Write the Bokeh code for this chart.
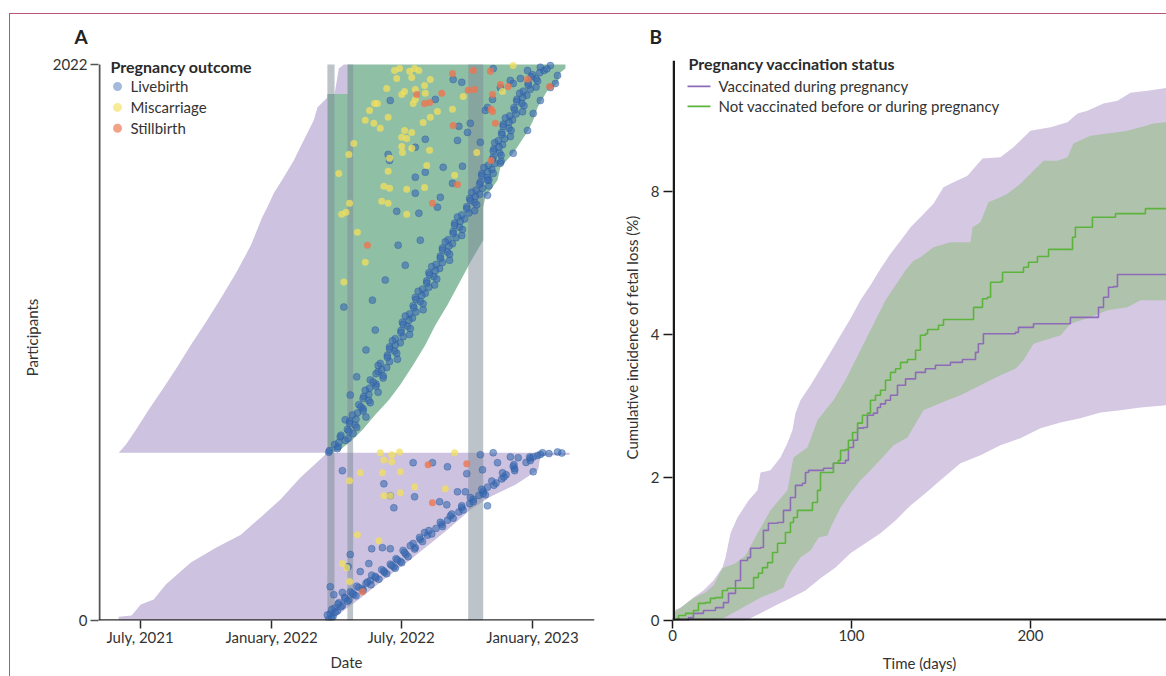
import numpy as np
import pandas as pd
from bokeh.plotting import figure
from bokeh.models import Range1d, FixedTicker, Label, DatetimeTickFormatter
from bokeh.layouts import row
from bokeh.embed import file_html
from bokeh.resources import INLINE

FONT = "Lato"
TXT = "#333333"
ORIGIN = pd.Timestamp("2021-07-01")   # x values of panel A are days since this date

# ------------------------------------------------------------------ panel A data
n_participants = 2022
tick_dates = ["2021-07-01", "2022-01-01", "2022-07-01", "2023-01-01"]
band_start_days = [262, 290, 459]
band_end_days = [272, 298, 480]

# bottom block : start (left) and outcome (right) edges
bottom_left_rows = [0, 14, 18, 58, 76, 131, 211, 265, 312, 374, 439, 519, 603, 610]
bottom_left_days = [-30, -30, -12, 1, 19, 36, 71, 106, 141, 168, 196, 224, 259, 259]
bottom_right_rows = [610, 603, 599, 548, 494, 450, 403, 330, 221, 149, 76, 40, 0]
bottom_right_days = [601, 601, 560, 557, 525, 490, 462, 430, 378, 341, 306, 287, 266]

# top block : purple part before the first band, green part after it
top_purple_rows = [610, 639, 693, 766, 839, 918, 1002, 1085, 1172, 1267, 1365, 1467, 1503,
                   1554, 1612, 1673, 1721, 1819, 1866, 1902]
top_purple_days = [-30, -20, -6, 12, 31, 51, 71, 92, 113, 135, 155, 171, 178, 187, 201, 215,
                   224, 243, 248, 262]
late_purple_rows = [1915, 1960, 2007, 2022]
late_purple_days = [272, 275, 278, 285]
green_left_rows = [610, 1915, 1915, 2022]
green_left_days = [262, 262, 290, 290]
green_right_rows = [2022, 2007, 1993, 1953, 1928, 1866, 1819, 1782, 1699, 1648, 1601, 1539,
                    1503, 1383, 1303, 1220, 1147, 1074, 1002, 929, 857, 802, 748, 693, 650,
                    621, 610]
green_right_days = [595, 595, 588, 584, 570, 556, 550, 543, 522, 504, 500, 483, 480, 480, 462,
                    445, 430, 413, 399, 382, 364, 348, 329, 311, 294, 280, 266]

# outcome points
top_diag_rows = [612, 625, 640, 655, 668, 680, 695, 710, 725, 740, 755, 770, 785, 800, 815,
                 830, 845, 860, 875, 890, 905, 920, 935, 950, 965, 980, 995, 1010, 1025, 1040,
                 1055, 1070, 1085, 1100, 1115, 1130, 1145, 1160, 1175, 1190, 1205, 1220, 1235,
                 1250, 1265, 1280, 1295, 1310, 1325, 1340, 1355, 1370, 1385, 1400, 1415, 1430,
                 1445, 1460, 1475, 1490, 1505, 1520, 1535, 1550, 1565, 1580, 1595, 1610, 1625,
                 1640, 1655, 1670, 1685, 1700, 1715, 1730, 1745, 1760, 1775, 1790, 1805, 1820,
                 1835, 1850, 1865, 1880, 1895, 1910, 1925, 1940, 1955, 1970, 1985, 2000, 2012,
                 2018]
top_diag_days = [264, 276, 272, 287, 280, 298, 290, 301, 293, 316, 304, 312, 306, 320, 313,
                 333, 321, 330, 322, 340, 333, 345, 336, 360, 346, 356, 349, 364, 357, 377,
                 365, 374, 367, 381, 377, 396, 382, 392, 385, 399, 395, 412, 401, 411, 404,
                 419, 414, 433, 420, 430, 423, 437, 431, 450, 438, 447, 440, 454, 450, 468,
                 457, 468, 461, 475, 470, 488, 476, 486, 478, 492, 487, 505, 494, 503, 495,
                 507, 501, 518, 506, 516, 508, 521, 517, 535, 523, 534, 527, 541, 536, 554,
                 543, 554, 549, 565, 560, 574]
top_diag2_rows = [618, 632, 647, 662, 674, 688, 702, 717, 732, 747, 762, 777, 792, 807, 822,
                  837, 852, 867, 882, 897, 912, 927, 942, 957, 972, 987, 1002, 1017, 1032,
                  1047, 1062, 1077, 1092, 1107, 1122, 1137, 1152, 1167, 1182, 1197, 1212, 1227,
                  1242, 1257, 1272, 1287, 1302, 1317, 1332, 1347, 1362, 1377, 1392, 1407, 1422,
                  1437, 1452, 1467, 1482, 1497, 1512, 1527, 1542, 1557, 1572, 1587, 1602, 1617,
                  1632, 1647, 1662, 1677, 1692, 1707, 1722, 1737, 1752, 1767, 1782, 1797, 1812,
                  1827, 1842, 1857, 1872, 1887, 1902, 1917, 1932, 1947, 1962, 1977, 1992, 2006]
top_diag2_days = [265, 277, 278, 291, 281, 292, 303, 293, 302, 297, 312, 309, 322, 312, 320,
                  315, 330, 326, 340, 330, 338, 333, 349, 346, 359, 349, 357, 353, 368, 365,
                  378, 368, 376, 371, 386, 383, 396, 386, 394, 389, 404, 401, 415, 405, 413,
                  408, 423, 420, 433, 423, 432, 427, 442, 438, 451, 440, 448, 444, 460, 457,
                  471, 462, 469, 464, 479, 475, 488, 478, 486, 481, 496, 493, 505, 494, 502,
                  496, 510, 506, 519, 508, 516, 511, 526, 524, 537, 527, 535, 531, 546, 543,
                  556, 547, 559, 569]
top_blue_rows = [1891, 1895, 1967, 1957, 2007, 2000, 1971, 1964, 1866, 1775, 1797, 1746, 1750,
                 1721, 1695, 1673, 1648, 1652, 1612, 1630, 1590, 1539, 1554, 1503, 1488, 1481,
                 1739, 1808, 1855, 1938, 1953, 1895, 1982, 1953, 1938, 1891, 1844, 1782, 1699,
                 1663, 1626, 1601, 1546, 1140, 886, 1165, 1238, 1292, 984, 820, 1383, 1365,
                 730, 1056]
top_blue_days = [350, 413, 438, 450, 494, 542, 532, 518, 486, 458, 446, 444, 399, 385, 347,
                 349, 424, 451, 385, 399, 437, 420, 385, 416, 359, 390, 476, 462, 483, 504,
                 522, 493, 584, 581, 574, 560, 550, 542, 522, 504, 494, 486, 486, 285, 303,
                 325, 343, 371, 316, 294, 392, 361, 287, 329]
top_yellow_rows = [2007, 2000, 1997, 2007, 2000, 1971, 1975, 1967, 1935, 1913, 1924, 1931,
                   1946, 1917, 1895, 1880, 1880, 1855, 1880, 1851, 1859, 1906, 1830, 1819,
                   1808, 1790, 1811, 1830, 1782, 1775, 1757, 1753, 1724, 1702, 1717, 1710,
                   1735, 1695, 1681, 1626, 1634, 1655, 1579, 1572, 1568, 1575, 1619, 1525,
                   1517, 1477, 1477, 1517, 2018, 1924, 1702, 1485, 1231, 1412, 1303]
top_yellow_days = [363, 356, 377, 384, 390, 359, 380, 406, 345, 366, 370, 385, 398, 399, 385,
                   382, 328, 321, 332, 416, 437, 452, 347, 315, 327, 336, 396, 406, 370, 380,
                   366, 373, 366, 367, 380, 405, 299, 292, 349, 278, 347, 401, 341, 349, 373,
                   398, 440, 338, 347, 373, 282, 293, 522, 507, 471, 288, 285, 304, 315]
top_orange_rows = [1989, 2000, 1997, 1928, 1931, 1913, 1917, 1884, 1880, 1913, 1949, 1942,
                   1968, 1942, 1859, 1851, 1808, 1800, 1586, 1517, 1673, 1365]
top_orange_days = [437, 466, 490, 459, 468, 387, 422, 405, 398, 493, 504, 515, 542, 573, 491,
                   493, 497, 438, 444, 409, 491, 318]
bottom_diag_rows = [5, 15, 25, 35, 45, 55, 65, 75, 85, 95, 105, 115, 125, 135, 145, 155, 165,
                    175, 185, 195, 205, 215, 225, 240, 255, 265, 280, 295, 310, 320, 335, 350,
                    365, 380, 395, 410, 425, 440, 455, 470, 485, 500, 515, 530, 545, 560, 575,
                    590, 600, 607, 609, 610]
bottom_diag_days = [264, 270, 266, 276, 272, 283, 278, 292, 286, 299, 294, 311, 303, 316, 322,
                    330, 324, 342, 338, 355, 350, 364, 358, 372, 368, 385, 382, 392, 402, 398,
                    414, 422, 430, 434, 446, 450, 461, 466, 474, 480, 486, 498, 506, 512, 524,
                    522, 540, 546, 556, 572, 590, 563]
bottom_diag2_rows = [10, 20, 30, 40, 50, 60, 70, 80, 90, 100, 110, 120, 130, 140, 150, 160,
                     170, 180, 190, 200, 210, 220, 232, 247, 260, 272, 287, 302, 315, 327, 342,
                     357, 372, 387, 402, 417, 432, 447, 462, 477, 492, 507, 522, 537, 552, 567,
                     582, 595, 604]
bottom_diag2_days = [268, 262, 273, 268, 281, 277, 290, 287, 302, 297, 312, 306, 323, 318, 334,
                     329, 345, 341, 357, 352, 366, 360, 375, 370, 384, 378, 395, 391, 408, 404,
                     423, 420, 438, 436, 452, 450, 466, 462, 480, 478, 495, 492, 509, 507, 524,
                     523, 546, 545, 560]
bottom_blue_rows = [545, 574, 574, 559, 534, 468, 468, 421, 432, 548, 574, 541, 417, 450, 454,
                    410, 497, 261, 265, 261, 196, 178, 207, 102, 94, 123, 240, 610, 595, 592,
                    595, 613, 603, 457]
bottom_blue_days = [283, 382, 409, 430, 457, 455, 444, 429, 419, 479, 500, 550, 486, 384, 350,
                    355, 341, 324, 339, 350, 291, 308, 320, 283, 271, 266, 294, 494, 518, 529,
                    550, 584, 476, 483]
bottom_yellow_rows = [610, 603, 613, 610, 584, 577, 537, 537, 541, 486, 465, 454, 454, 479,
                      312, 290, 207, 192, 508, 142]
bottom_yellow_days = [336, 352, 363, 440, 341, 352, 308, 339, 364, 384, 364, 341, 350, 427,
                      304, 334, 283, 289, 293, 293]
bottom_orange_rows = [566, 570, 428, 105]
bottom_orange_days = [403, 457, 409, 311]

# ------------------------------------------------------------------ panel B data
# (y in displayed axis units; the axis is labelled 0, 2, 4, 8)
vacc_days = [0, 8.9, 11.7, 17.3, 24.0, 28.5, 31.3, 35.2, 38.0, 41.9, 43.6, 49.2, 50.8, 53.6,
             58.7, 62.0, 65.9, 68.7, 72.6, 74.3, 76.0, 84.4, 89.9, 96.6, 98.3, 101.1, 103.4,
             106.7, 108.9, 112.3, 114.5, 116.2, 119.0, 121.8, 125.7, 130.2, 135.8, 141.3,
             146.9, 155.3, 162.0, 169.3, 170.9, 173.7, 191.6, 193.3, 201.7, 220.7, 222.3,
             234.6, 238.0, 240.8, 243.6, 246.4, 248.6, 276]
vacc_inc = [0, 0.04, 0.10, 0.14, 0.18, 0.25, 0.38, 0.56, 0.84, 0.88, 1.01, 1.02, 1.26, 1.36,
            1.37, 1.54, 1.72, 1.89, 1.92, 2.07, 2.10, 2.13, 2.20, 2.24, 2.42, 2.52, 2.69, 2.70,
            2.87, 2.90, 2.98, 3.03, 3.08, 3.15, 3.29, 3.38, 3.47, 3.52, 3.57, 3.61, 3.65, 3.75,
            3.87, 4.01, 4.03, 4.10, 4.15, 4.15, 4.24, 4.24, 4.38, 4.52, 4.66, 4.67, 4.84, 4.84]
unvacc_days = [0, 3.4, 7.3, 11.7, 14.5, 18.4, 21.2, 24.0, 27.9, 30.7, 42.5, 45.3, 48.0, 50.3,
               53.1, 55.9, 58.7, 62.0, 63.1, 65.9, 67.6, 69.8, 76.0, 78.2, 81.0, 82.7, 87.2,
               89.9, 92.7, 93.9, 96.6, 98.3, 100.6, 103.4, 106.1, 108.9, 110.6, 113.4, 116.2,
               119.0, 121.8, 124.6, 127.4, 131.3, 134.1, 135.8, 138.5, 141.3, 142.5, 146.9,
               148.6, 151.4, 167.6, 168.2, 171.5, 173.2, 176.0, 177.7, 183.2, 184.4, 194.4,
               196.1, 198.9, 201.7, 203.9, 208.4, 210.1, 219.6, 223.5, 225.1, 231.8, 234.6,
               245.8, 247.5, 263.1, 264.2, 276]
unvacc_inc = [0, 0.07, 0.10, 0.14, 0.24, 0.25, 0.31, 0.32, 0.42, 0.45, 0.45, 0.60, 0.66, 0.74,
              0.81, 0.95, 1.08, 1.08, 1.23, 1.37, 1.44, 1.54, 1.54, 1.65, 1.82, 2.07, 2.07,
              2.20, 2.24, 2.38, 2.39, 2.52, 2.63, 2.76, 2.87, 2.90, 3.08, 3.15, 3.22, 3.36,
              3.47, 3.52, 3.61, 3.65, 3.65, 3.78, 3.99, 4.01, 4.07, 4.07, 4.13, 4.21, 4.21,
              4.38, 4.38, 4.50, 4.52, 4.73, 4.74, 4.87, 4.87, 4.94, 5.01, 5.01, 5.09, 5.09,
              5.19, 5.19, 5.36, 5.50, 5.50, 5.64, 5.64, 5.69, 5.69, 5.76, 5.76]
vacc_hi_days = [0, 0.6, 4.5, 11.7, 17.3, 22.9, 27.9, 29.6, 32.4, 36.3, 42.5, 47.5, 49.2, 54.7,
                60.3, 64.2, 67.0, 68.7, 71.5, 77.1, 82.7, 88.3, 93.9, 99.4, 105.0, 110.6,
                116.2, 121.8, 127.4, 133.0, 138.5, 145.8, 151.4, 157.0, 164.8, 173.2, 183.2,
                190.5, 200.0, 211.2, 220.7, 226.3, 231.8, 240.8, 248.6, 255.9, 265.4, 276]
vacc_hi = [0, 0.14, 0.18, 0.32, 0.42, 0.56, 0.74, 0.88, 1.22, 1.44, 1.68, 1.82, 2.07, 2.10,
           2.28, 2.48, 2.66, 2.90, 3.08, 3.29, 3.52, 3.75, 3.99, 4.22, 4.48, 4.69, 4.92, 5.13,
           5.31, 5.50, 5.64, 5.83, 6.06, 6.13, 6.22, 6.46, 6.48, 6.62, 6.85, 6.90, 6.97, 7.09,
           7.13, 7.23, 7.27, 7.38, 7.41, 7.45]
vacc_lo_days = [0, 40.8, 49.2, 57.5, 65.9, 74.3, 82.7, 91.1, 99.4, 107.8, 116.2, 124.6, 133.0,
                141.3, 149.7, 160.9, 172.1, 183.2, 194.4, 205.6, 216.8, 227.9, 239.1, 250.3,
                261.5, 276]
vacc_lo = [0, 0, 0.10, 0.21, 0.31, 0.42, 0.59, 0.74, 0.94, 1.08, 1.22, 1.40, 1.61, 1.78,
           1.96, 2.20, 2.31, 2.45, 2.55, 2.69, 2.77, 2.83, 2.91, 2.94, 2.98, 3.01]
unvacc_hi_days = [0, 0.6, 4.5, 11.7, 18.4, 22.9, 27.9, 35.2, 40.8, 47.5, 54.7, 64.2, 67.6,
                  75.4, 81.0, 86.6, 89.9, 96.6, 102.2, 107.8, 113.4, 119.0, 124.6, 130.2,
                  134.6, 138.5, 145.8, 155.3, 166.5, 167.6, 172.1, 176.5, 183.2, 187.2, 194.4,
                  201.7, 207.3, 215.1, 220.7, 224.0, 233.5, 243.0, 254.2, 261.5, 268.7, 276]
unvacc_hi = [0, 0.11, 0.18, 0.31, 0.39, 0.49, 0.73, 0.80, 0.91, 1.22, 1.54, 1.82, 2.28, 2.42,
             2.80, 2.98, 3.08, 3.36, 3.64, 3.92, 4.20, 4.48, 4.69, 4.90, 5.03, 5.08, 5.22,
             5.29, 5.29, 5.50, 5.57, 5.85, 5.92, 5.97, 6.11, 6.29, 6.43, 6.43, 6.48, 6.67,
             6.78, 6.81, 6.85, 6.90, 6.95, 6.97]
unvacc_lo_days = [0, 24.0, 28.5, 36.3, 43.6, 49.2, 56.4, 62.0, 64.2, 67.6, 71.5, 77.1, 81.6,
                  86.6, 88.3, 93.9, 99.4, 105.0, 110.6, 117.3, 123.5, 131.3, 136.9, 140.2,
                  153.6, 160.9, 172.1, 183.2, 191.6, 196.1, 201.7, 216.8, 222.3, 233.5, 243.0,
                  254.2, 261.5, 276]
unvacc_lo = [0, 0, 0.03, 0.14, 0.24, 0.32, 0.39, 0.46, 0.60, 0.74, 0.88, 0.98, 1.16, 1.19,
             1.30, 1.58, 1.78, 1.96, 2.10, 2.28, 2.45, 2.56, 2.80, 2.94, 3.08, 3.15, 3.29,
             3.43, 3.52, 3.64, 3.87, 3.99, 4.15, 4.24, 4.34, 4.38, 4.48, 4.48]
b_ticks = [0, 2, 4, 6]
b_tick_labels = {0: "0", 2: "2", 4: "4", 6: "8"}
b_axis_top = 7.83

# ------------------------------------------------------------------ helpers
def dt(days):
    return (ORIGIN + pd.to_timedelta(np.asarray(days, dtype=float), unit="D")).values


def ms(days):
    return (ORIGIN + pd.Timedelta(days=float(days))).value / 1e6


PURPLE_A = "#cdc2df"
GREEN_A = "#8fbfa5"
BAND = "#7e8d99"
BLUE = "#3a6bb3"
YELLOW = "#f3df5c"
ORANGE = "#ee7650"
VAC = "#8e6bb8"
UNVAC = "#5db43c"

A_X0, A_X1 = -58.2, 635.7          # visible date window (days)
A_YTOP = 2058.3                    # a little head-room above the 2022 tick
B_X1, B_YTOP = 276, 7.916


def style_axis(ax, color, width):
    ax.axis_line_color = None      # drawn as a line glyph so it stops at the top tick
    ax.major_tick_line_color = color
    ax.major_tick_line_width = 1.5
    ax.major_tick_out = 8
    ax.major_tick_in = 0
    ax.minor_tick_line_color = None
    ax.major_label_text_font = FONT
    ax.major_label_text_font_size = "15px"
    ax.major_label_text_color = TXT
    ax.axis_label_text_font = FONT
    ax.axis_label_text_font_size = "15px"
    ax.axis_label_text_font_style = "normal"
    ax.axis_label_text_color = TXT


def style_title(p, offset):
    p.title.text_font = FONT
    p.title.text_font_size = "19px"
    p.title.text_font_style = "bold"
    p.title.text_color = "#222222"
    p.title.align = "left"
    p.title.offset = offset
    p.title.standoff = 13


# ------------------------------------------------------------------ panel A
pA = figure(width=600, height=662, x_axis_type="datetime", title="A",
            x_range=Range1d(ms(A_X0), ms(A_X1)), y_range=Range1d(0, A_YTOP),
            output_backend="svg", toolbar_location=None,
            min_border_left=88, min_border_right=16, min_border_top=40, min_border_bottom=55)
pA.outline_line_color = None
pA.grid.visible = False
pA.background_fill_color = None
pA.border_fill_color = None
style_title(pA, -24)

pA.patch(dt(bottom_left_days + bottom_right_days), bottom_left_rows + bottom_right_rows,
         fill_color=PURPLE_A, line_color=None)
pA.patch(dt(top_purple_days + [262]), top_purple_rows + [610],
         fill_color=PURPLE_A, line_color=None)
pA.patch(dt(late_purple_days + [290, 290]), late_purple_rows + [2022, 1915],
         fill_color=PURPLE_A, line_color=None)
pA.patch(dt(green_left_days + green_right_days), green_left_rows + green_right_rows,
         fill_color=GREEN_A, line_color=None)

pA.quad(left=dt(band_start_days), right=dt(band_end_days),
        bottom=[0] * len(band_start_days), top=[n_participants] * len(band_start_days),
        fill_color=BAND, fill_alpha=0.52, line_color=None)

blue_kw = dict(size=7, fill_color=BLUE, fill_alpha=0.6, line_color="#24549a", line_alpha=0.6,
               line_width=0.6)
for d, r in [(top_diag_days, top_diag_rows), (top_diag2_days, top_diag2_rows),
             (top_blue_days, top_blue_rows), (bottom_diag_days, bottom_diag_rows),
             (bottom_diag2_days, bottom_diag2_rows), (bottom_blue_days, bottom_blue_rows)]:
    pA.scatter(dt(d), r, **blue_kw)
yel_kw = dict(size=7, fill_color=YELLOW, fill_alpha=0.75, line_color=None)
pA.scatter(dt(top_yellow_days), top_yellow_rows, **yel_kw)
pA.scatter(dt(bottom_yellow_days), bottom_yellow_rows, **yel_kw)
org_kw = dict(size=7, fill_color=ORANGE, fill_alpha=0.8, line_color=None)
pA.scatter(dt(top_orange_days), top_orange_rows, **org_kw)
pA.scatter(dt(bottom_orange_days), bottom_orange_rows, **org_kw)

style_axis(pA.xaxis[0], "#2b2b2b", 2)
style_axis(pA.yaxis[0], "#555555", 2)
pA.xaxis.ticker = FixedTicker(ticks=[pd.Timestamp(d).value / 1e6 for d in tick_dates])
fmt = "%B, %Y"
pA.xaxis.formatter = DatetimeTickFormatter(days=fmt, months=fmt, years=fmt)
pA.xaxis.major_label_standoff = -1
pA.xaxis.axis_label = "Date"
pA.xaxis.axis_label_standoff = 4
pA.yaxis.ticker = FixedTicker(ticks=[0, n_participants])
pA.yaxis.major_label_standoff = 3
pA.yaxis.axis_label = "Participants"
pA.yaxis.axis_label_standoff = 9
# axis lines (y stops at the 2022 tick)
pA.line(dt([A_X0 + 1.4, A_X0 + 1.4]), [0, n_participants], line_color="#555555", line_width=2)
pA.line(dt([A_X0, A_X1]), [0.5, 0.5], line_color="#2b2b2b", line_width=2.2)

pA.add_layout(Label(x=ms(-41.4), y=2015, text="Pregnancy outcome", text_font=FONT,
                    text_font_size="16px", text_font_style="bold", text_color="#2a2a2a",
                    text_baseline="middle"))
legend_a = [("Livebirth", BLUE, 0.55, 1942), ("Miscarriage", YELLOW, 0.75, 1866),
            ("Stillbirth", ORANGE, 0.8, 1790)]
for name, col, alp, yy in legend_a:
    pA.scatter([ms(-31.6)], [yy], size=9, fill_color=col, fill_alpha=alp * 0.85, line_color=None)
    pA.add_layout(Label(x=ms(-13.4), y=yy, text=name, text_font=FONT, text_font_size="15px",
                        text_color=TXT, text_baseline="middle"))

# ------------------------------------------------------------------ panel B
pB = figure(width=556, height=662, x_range=Range1d(0, B_X1), y_range=Range1d(0, B_YTOP),
            title="B", output_backend="svg", toolbar_location=None,
            min_border_left=62, min_border_right=0, min_border_top=40, min_border_bottom=56)
pB.outline_line_color = None
pB.grid.visible = False
pB.background_fill_color = None
pB.border_fill_color = None
style_title(pB, -23)

pB.patch(vacc_hi_days + vacc_lo_days[::-1], vacc_hi + vacc_lo[::-1],
         fill_color="#d5c8e3", line_color=None)
pB.patch(unvacc_hi_days + unvacc_lo_days[::-1], unvacc_hi + unvacc_lo[::-1],
         fill_color="#96be87", fill_alpha=0.6, line_color=None)
pB.step(vacc_days, vacc_inc, mode="after", line_color=VAC, line_width=1.6)
pB.step(unvacc_days, unvacc_inc, mode="after", line_color=UNVAC, line_width=1.6)

style_axis(pB.xaxis[0], "#1a1a1a", 2.5)
style_axis(pB.yaxis[0], "#1a1a1a", 2.5)
pB.xaxis.ticker = FixedTicker(ticks=[0, 100, 200])
pB.xaxis.major_label_standoff = 1
pB.xaxis.axis_label = "Time (days)"
pB.xaxis.axis_label_standoff = 10
pB.yaxis.ticker = FixedTicker(ticks=b_ticks)
pB.yaxis.major_label_overrides = b_tick_labels
pB.yaxis.major_tick_out = 9
pB.yaxis.major_label_standoff = 4
pB.yaxis.axis_label = "Cumulative incidence of fetal loss (%)"
pB.yaxis.axis_label_standoff = 7
pB.line([0.7, 0.7], [0, b_axis_top], line_color="#1a1a1a", line_width=2.5)
pB.line([0, B_X1], [0.012, 0.012], line_color="#1a1a1a", line_width=2.5)

pB.add_layout(Label(x=8.9, y=7.79, text="Pregnancy vaccination status", text_font=FONT,
                    text_font_size="16px", text_font_style="bold", text_color="#2a2a2a",
                    text_baseline="middle"))
legend_b = [("Vaccinated during pregnancy", VAC, 7.47),
            ("Not vaccinated before or during pregnancy", UNVAC, 7.19)]
for name, col, yy in legend_b:
    pB.segment(x0=[8.4], y0=[yy], x1=[21.2], y1=[yy], line_color=col, line_width=1.6)
    pB.add_layout(Label(x=25.7, y=yy, text=name, text_font=FONT, text_font_size="15px",
                        text_color=TXT, text_baseline="middle"))

layout = row(pA, pB, styles={"border-left": "1px solid #b9557a", "border-top": "1px solid #b9557a",
                             "margin-top": "13px", "margin-left": "9px"})

with open("out.html", "w") as f:
    f.write(file_html(layout, INLINE))
